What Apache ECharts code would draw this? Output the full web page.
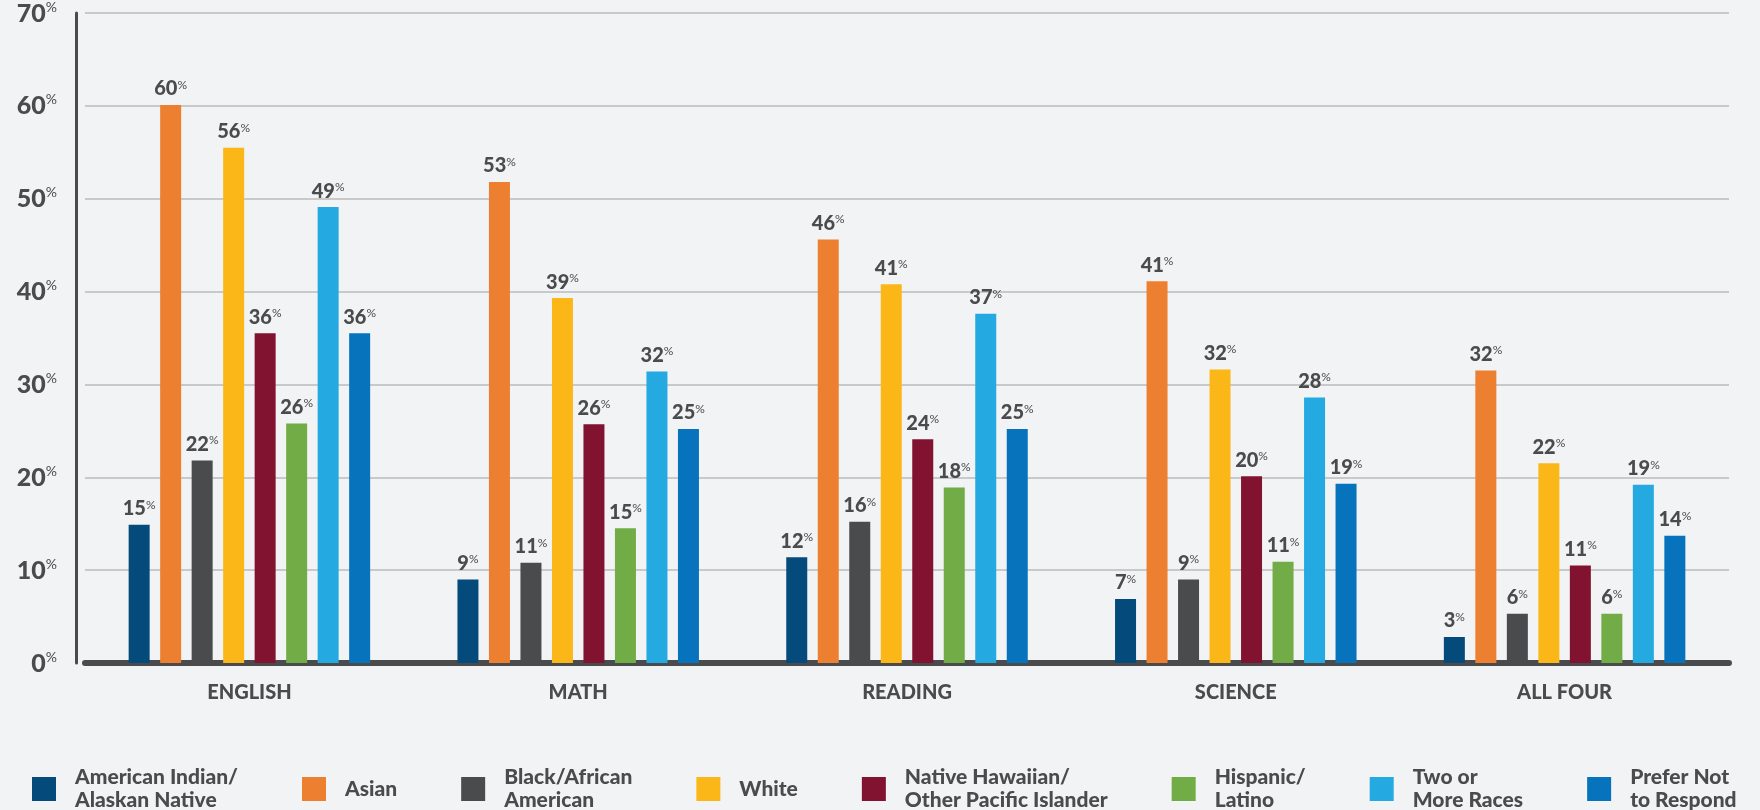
<!DOCTYPE html>
<html><head><meta charset="utf-8">
<script src="https://cdn.jsdelivr.net/npm/echarts@6/dist/echarts.min.js"></script>
<style>html,body{margin:0;padding:0;background:#f2f3f5;}#c{width:1760px;height:810px;}</style>
</head><body><div id="c"></div>
<script>
const categories = ['ENGLISH', 'MATH', 'READING', 'SCIENCE', 'ALL FOUR'];
const seriesNames = ['American Indian/\nAlaskan Native', 'Asian', 'Black/African\nAmerican', 'White', 'Native Hawaiian/\nOther Pacific Islander', 'Hispanic/\nLatino', 'Two or\nMore Races', 'Prefer Not\nto Respond'];
const colors = ['#044a7a', '#ed7f31', '#4a4b4d', '#fbb717', '#821330', '#71ac46', '#24a9e1', '#0673bc'];
// bar heights (%), per group
const americanIndian = [14.9, 9.0, 11.4, 6.9, 2.8];
const asian = [60.1, 51.8, 45.6, 41.1, 31.5];
const black = [21.8, 10.8, 15.2, 9.0, 5.3];
const white = [55.5, 39.3, 40.8, 31.6, 21.5];
const nativeHawaiian = [35.5, 25.7, 24.1, 20.1, 10.5];
const hispanic = [25.8, 14.5, 18.9, 10.9, 5.3];
const twoOrMore = [49.1, 31.4, 37.6, 28.6, 19.2];
const preferNot = [35.5, 25.2, 25.2, 19.3, 13.7];
// printed labels
const lblAmericanIndian = [15, 9, 12, 7, 3];
const lblAsian = [60, 53, 46, 41, 32];
const lblBlack = [22, 11, 16, 9, 6];
const lblWhite = [56, 39, 41, 32, 22];
const lblNativeHawaiian = [36, 26, 24, 20, 11];
const lblHispanic = [26, 15, 18, 11, 6];
const lblTwoOrMore = [49, 32, 37, 28, 19];
const lblPreferNot = [36, 25, 25, 19, 14];
const yTicks = [0, 10, 20, 30, 40, 50, 60, 70];

const values = [americanIndian, asian, black, white, nativeHawaiian, hispanic, twoOrMore, preferNot];
const labels = [lblAmericanIndian, lblAsian, lblBlack, lblWhite, lblNativeHawaiian, lblHispanic, lblTwoOrMore, lblPreferNot];

const FONT = 'Lato';
const TXT = '#4a4b4d';

const chart = echarts.init(document.getElementById('c'), null, {renderer: 'canvas'});
const series = seriesNames.map((name, i) => ({
  name: name,
  type: 'bar',
  barWidth: 21,
  barGap: '50%',
  itemStyle: {color: colors[i]},
  data: values[i],
  label: {
    show: true,
    position: 'top',
    distance: 6,
    formatter: p => '{n|' + labels[i][p.dataIndex] + '}{p|%}',
    rich: {
      n: {fontFamily: FONT, fontWeight: 900, fontSize: 20, color: TXT, lineHeight: 20, verticalAlign: 'bottom'},
      p: {fontFamily: FONT, fontWeight: 'normal', fontSize: 12, color: TXT, lineHeight: 20, verticalAlign: 'top', padding: [0, 0, 7, 0]}
    }
  }
}));

chart.setOption({
  backgroundColor: '#f2f3f5',
  animation: false,
  color: colors,
  grid: {left: 85, right: 31, top: 13, bottom: 147, containLabel: false},
  xAxis: {
    type: 'category',
    data: categories,
    axisLine: {show: true, lineStyle: {color: '#4a4b4d', width: 6}},
    axisTick: {show: false},
    axisLabel: {fontFamily: FONT, fontWeight: 900, fontSize: 20, color: TXT, margin: 20}
  },
  yAxis: {
    type: 'value',
    min: 0, max: 70, interval: 10,
    offset: 9,
    axisLine: {show: true, lineStyle: {color: '#4a4b4d', width: 3}},
    axisTick: {show: false},
    splitLine: {lineStyle: {color: '#c8c9cb', width: 2}},
    axisLabel: {
      margin: 19,
      formatter: v => yTicks.includes(v) ? '{n|' + v + '}{p|%}' : '',
      rich: {
        n: {fontFamily: FONT, fontWeight: 900, fontSize: 25, color: TXT, lineHeight: 26, verticalAlign: 'bottom'},
        p: {fontFamily: FONT, fontWeight: 'normal', fontSize: 14, color: TXT, lineHeight: 26, verticalAlign: 'top', padding: [0, 0, 8, 0]}
      }
    }
  },
  legend: {
    left: 27,
    top: 761,
    itemWidth: 24,
    itemHeight: 24,
    itemGap: 64,
    icon: 'rect',
    selectedMode: false,
    textStyle: {fontFamily: FONT, fontWeight: 900, fontSize: 21, color: TXT, lineHeight: 23, padding: [0, 0, 0, 14]},
    data: seriesNames
  },
  series: series
});
</script></body></html>
